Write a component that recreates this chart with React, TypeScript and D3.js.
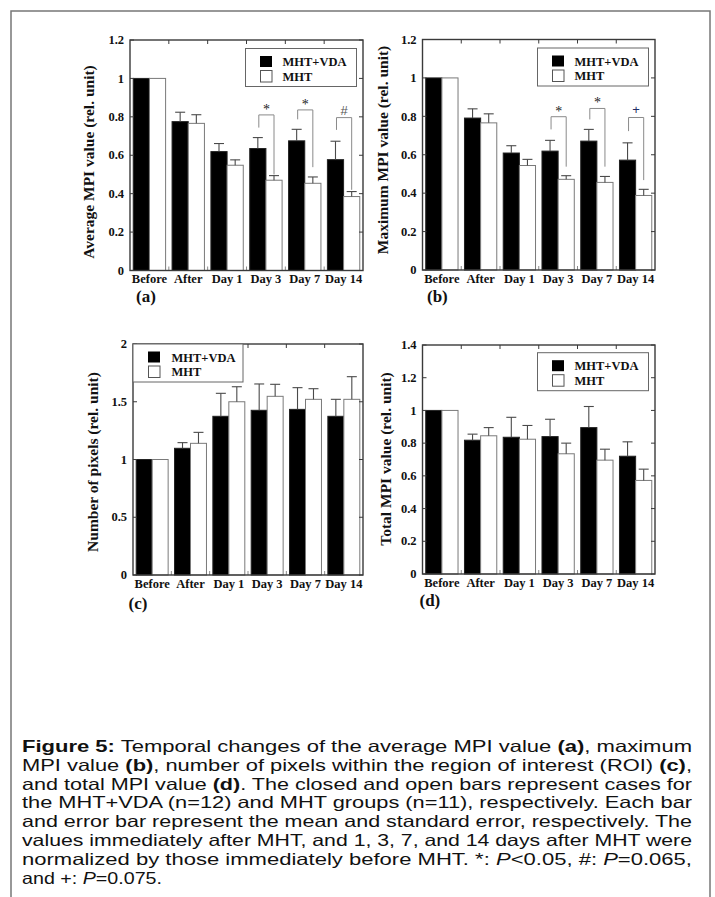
import React from "react";
import * as d3 from "d3";

// ---------- DATA ----------
const categories = ["Before", "After", "Day 1", "Day 3", "Day 7", "Day 14"];
const seriesNames = ["MHT+VDA", "MHT"];

// (a) Average MPI value
const avgVda = [1, 0.775, 0.619, 0.635, 0.675, 0.577];
const avgVdaErr = [0, 0.049, 0.042, 0.057, 0.06, 0.096];
const avgMht = [1, 0.766, 0.548, 0.47, 0.454, 0.385];
const avgMhtErr = [0, 0.045, 0.028, 0.024, 0.033, 0.026];
const avgSigIdx = [3, 4, 5];
const avgSigSym = ["*", "*", "#"];
const avgSigTop = [0.81, 0.836, 0.796];
const avgSigLeft = [0.744, 0.787, 0.732];
const avgSigRight = [0.5, 0.538, 0.42];

// (b) Maximum MPI value
const maxVda = [1, 0.791, 0.609, 0.619, 0.671, 0.572];
const maxVdaErr = [0, 0.048, 0.038, 0.056, 0.061, 0.09];
const maxMht = [1, 0.766, 0.544, 0.472, 0.456, 0.388];
const maxMhtErr = [0, 0.047, 0.032, 0.019, 0.031, 0.032];
const maxSigIdx = [3, 4, 5];
const maxSigSym = ["*", "*", "+"];
const maxSigTop = [0.798, 0.841, 0.794];
const maxSigLeft = [0.732, 0.784, 0.723];
const maxSigRight = [0.538, 0.538, 0.468];

// (c) Number of pixels
const pixVda = [1, 1.097, 1.374, 1.426, 1.434, 1.374];
const pixVdaErr = [0, 0.049, 0.199, 0.228, 0.188, 0.147];
const pixMht = [1, 1.14, 1.5, 1.547, 1.521, 1.521];
const pixMhtErr = [0, 0.095, 0.13, 0.104, 0.092, 0.196];

// (d) Total MPI value
const totVda = [1, 0.818, 0.836, 0.84, 0.895, 0.72];
const totVdaErr = [0, 0.037, 0.122, 0.106, 0.129, 0.088];
const totMht = [1, 0.845, 0.824, 0.735, 0.696, 0.572];
const totMhtErr = [0, 0.05, 0.084, 0.065, 0.067, 0.069];

// Caption (segments: [text, style]) style: n normal, b bold, i italic
const captionLines: [string, string][][] = [
  [["Figure 5:", "b"], [" Temporal changes of the average MPI value ", "n"], ["(a)", "b"], [", maximum", "n"]],
  [["MPI value ", "n"], ["(b)", "b"], [", number of pixels within the region of interest (ROI) ", "n"], ["(c)", "b"], [",", "n"]],
  [["and total MPI value ", "n"], ["(d)", "b"], [". The closed and open bars represent cases for", "n"]],
  [["the MHT+VDA (n=12) and MHT groups (n=11), respectively. Each bar", "n"]],
  [["and error bar represent the mean and standard error, respectively. The", "n"]],
  [["values immediately after MHT, and 1, 3, 7, and 14 days after MHT were", "n"]],
  [["normalized by those immediately before MHT. *: ", "n"], ["P", "i"], ["<0.05, #: ", "n"], ["P", "i"], ["=0.065,", "n"]],
  [["and +: ", "n"], ["P", "i"], ["=0.075.", "n"]],
];

// ---------- LAYOUT ----------
const SERIF = "'Liberation Serif', 'Times New Roman', serif";
const SANS = "'Liberation Sans Narrow', 'Arial Narrow', 'Liberation Sans', Arial, sans-serif";

type Sig = { idx: number[]; sym: string[]; top: number[]; left: number[]; right: number[]; colors: string[] };
type Panel = {
  letter: string;
  yLabel: string;
  x0: number; x1: number; yTop: number; yBot: number;
  yMax: number; nTicks: number;
  vda: number[]; vdaErr: number[]; mht: number[]; mhtErr: number[];
  legend: "left" | "right";
  letterX: number; letterY: number;
  yLabelX: number; yLabelY: number;
  sig?: Sig;
};

const panels: Panel[] = [
  {
    letter: "(a)", yLabel: "Average MPI value (rel. unit)",
    x0: 130, x1: 363, yTop: 40, yBot: 270.5, yMax: 1.2, nTicks: 6,
    vda: avgVda, vdaErr: avgVdaErr, mht: avgMht, mhtErr: avgMhtErr,
    legend: "right", letterX: 136, letterY: 302, yLabelX: 88, yLabelY: 162,
    sig: { idx: avgSigIdx, sym: avgSigSym, top: avgSigTop, left: avgSigLeft, right: avgSigRight, colors: ["#222", "#222", "#555"] },
  },
  {
    letter: "(b)", yLabel: "Maximum MPI value (rel. unit)",
    x0: 422.5, x1: 655, yTop: 39.5, yBot: 270, yMax: 1.2, nTicks: 6,
    vda: maxVda, vdaErr: maxVdaErr, mht: maxMht, mhtErr: maxMhtErr,
    legend: "right", letterX: 427, letterY: 302, yLabelX: 382, yLabelY: 150,
    sig: { idx: maxSigIdx, sym: maxSigSym, top: maxSigTop, left: maxSigLeft, right: maxSigRight, colors: ["#222", "#222", "#1f2d66"] },
  },
  {
    letter: "(c)", yLabel: "Number of pixels (rel. unit)",
    x0: 133, x1: 363, yTop: 344, yBot: 575, yMax: 2, nTicks: 4,
    vda: pixVda, vdaErr: pixVdaErr, mht: pixMht, mhtErr: pixMhtErr,
    legend: "left", letterX: 128.5, letterY: 609, yLabelX: 92, yLabelY: 462,
  },
  {
    letter: "(d)", yLabel: "Total MPI value (rel. unit)",
    x0: 422.5, x1: 655, yTop: 345, yBot: 574, yMax: 1.4, nTicks: 7,
    vda: totVda, vdaErr: totVdaErr, mht: totMht, mhtErr: totMhtErr,
    legend: "right", letterX: 419.5, letterY: 606, yLabelX: 385, yLabelY: 459,
  },
];

const AXIS = "#3a3a3a";
const GRAY = "#8a8a8a";

function ChartPanel({ p }: { p: Panel }) {
  const x = d3.scaleBand<string>().domain(categories).range([p.x0, p.x1]).padding(0);
  const inner = d3.scaleBand<string>().domain(seriesNames).range([0, x.bandwidth()]).paddingInner(0).paddingOuter(0.2);
  const y = d3.scaleLinear().domain([0, p.yMax]).range([p.yBot, p.yTop]);
  const ticks = y.ticks(p.nTicks);
  const fmt = d3.format("~g");
  const bw = inner.bandwidth();
  const capW = 10;
  const series = [
    { name: seriesNames[0], vals: p.vda, errs: p.vdaErr, fill: "#000", stroke: "#222" },
    { name: seriesNames[1], vals: p.mht, errs: p.mhtErr, fill: "#fff", stroke: "#7a7a7a" },
  ];
  const boundaries = categories.slice(1).map((c) => x(c) as number);

  const lgW = p.legend === "right" ? 111 : 110;
  const lgH = 38;
  const lgX = p.legend === "right" ? p.x1 - 6.5 - lgW : p.x0;
  const lgY = p.legend === "right" ? p.yTop + (p.yTop > 300 ? 7.7 : 8.5) : p.yTop;
  const sqX = p.legend === "right" ? lgX + 14.5 : lgX + 15;
  const txX = p.legend === "right" ? lgX + 37 : lgX + 38.5;

  return (
    <g>
      {series.map((s) =>
        categories.map((c, i) => {
          const bx = (x(c) as number) + (inner(s.name) as number);
          const top = y(s.vals[i]);
          return (
            <rect key={s.name + c} x={bx} y={top} width={bw} height={p.yBot - top}
              fill={s.fill} stroke={s.stroke} strokeWidth={1} />
          );
        })
      )}
      {series.map((s) =>
        categories.map((c, i) => {
          if (!s.errs[i]) return null;
          const cx = (x(c) as number) + (inner(s.name) as number) + bw / 2;
          const t = y(s.vals[i]);
          const e = y(s.vals[i] + s.errs[i]);
          return (
            <g key={"e" + s.name + c} stroke="#4a4a4a" strokeWidth={1.1}>
              <line x1={cx} x2={cx} y1={t} y2={e} />
              <line x1={cx - capW / 2} x2={cx + capW / 2} y1={e} y2={e} />
            </g>
          );
        })
      )}
      {p.sig &&
        p.sig.idx.map((ci, k) => {
          const c = categories[ci];
          const lx = (x(c) as number) + (inner(seriesNames[0]) as number) + bw / 2 + 1;
          const rx = (x(c) as number) + (inner(seriesNames[1]) as number) + bw / 2;
          const sig = p.sig as Sig;
          const yt = y(sig.top[k]);
          const path = `M${lx},${y(sig.left[k])}V${yt}H${rx}V${y(sig.right[k])}`;
          const sym = sig.sym[k];
          return (
            <g key={"s" + k}>
              <path d={path} fill="none" stroke={GRAY} strokeWidth={1} />
              <text x={(lx + rx) / 2} y={sym === "*" ? yt - 1 : yt - 3} textAnchor="middle"
                fontFamily={sym === "*" ? SERIF : SANS} fontSize={sym === "*" ? 14 : 13}
                fill={sig.colors[k]}>{sym}</text>
            </g>
          );
        })}
      {boundaries.map((bx, i) => (
        <g key={"tb" + i} stroke={GRAY} strokeWidth={1}>
          <line x1={bx} x2={bx} y1={p.yBot} y2={p.yBot - 4} />
          <line x1={bx} x2={bx} y1={p.yTop} y2={p.yTop + 4} stroke={AXIS} />
        </g>
      ))}
      {ticks.map((t) => (
        <g key={"ty" + t} stroke={AXIS} strokeWidth={1}>
          <line x1={p.x0} x2={p.x0 + 4} y1={y(t)} y2={y(t)} />
          <line x1={p.x1} x2={p.x1 - 4} y1={y(t)} y2={y(t)} />
        </g>
      ))}
      <rect x={p.x0} y={p.yTop} width={p.x1 - p.x0} height={p.yBot - p.yTop} fill="none" stroke={AXIS} strokeWidth={1.4} />
      {ticks.map((t) => (
        <text key={"yl" + t} x={p.x0 - 6} y={y(t) + 4.2} textAnchor="end" fontFamily={SERIF}
          fontWeight="bold" fontSize={12.5} fill="#111">{fmt(t)}</text>
      ))}
      {categories.map((c) => (
        <text key={"xl" + c} x={(x(c) as number) + x.bandwidth() / 2} y={p.yBot + 12.5}
          textAnchor="middle" fontFamily={SERIF} fontWeight="bold" fontSize={12.5} fill="#111">{c}</text>
      ))}
      <text transform={`translate(${p.yLabelX},${p.yLabelY}) rotate(-90)`} textAnchor="middle"
        dominantBaseline="central" fontFamily={SERIF} fontWeight="bold" fontSize={15.5} fill="#111">{p.yLabel}</text>
      <text x={p.letterX} y={p.letterY} fontFamily={SERIF} fontWeight="bold" fontSize={17} fill="#111">{p.letter}</text>
      <rect x={lgX} y={lgY} width={lgW} height={lgH} fill="#fff" stroke="#666" strokeWidth={1} />
      <rect x={sqX} y={lgY + 7.5} width={12} height={11} fill="#000" />
      <rect x={sqX + 0.5} y={lgY + 22} width={11.5} height={11.5} fill="#fff" stroke="#555" strokeWidth={1} />
      <text x={txX} y={lgY + 17.5} fontFamily={SERIF} fontWeight="bold" fontSize={12.5} fill="#111">{seriesNames[0]}</text>
      <text x={txX} y={lgY + 32} fontFamily={SERIF} fontWeight="bold" fontSize={12.5} fill="#111">{seriesNames[1]}</text>
    </g>
  );
}

export default function App() {
  const capX = 22;
  const capW = 670;
  const lastW = 140;
  const capY0 = 752;
  const capDy = 18.8;
  return (
    <svg width={715} height={897} viewBox="0 0 715 897"
      style={{ position: "absolute", left: 0, top: 0, background: "#fff" }}>
      <rect x={0} y={0} width={715} height={897} fill="#fff" />
      <rect x={11} y={11} width={699} height={920} fill="none" stroke="#777" strokeWidth={1.5} />
      {panels.map((p) => (
        <ChartPanel key={p.letter} p={p} />
      ))}
      {captionLines.map((segs, li) => {
        const last = li === captionLines.length - 1;
        return (
          <text key={"cap" + li} x={capX} y={capY0 + li * capDy} fontFamily={SANS} fontSize={16.5}
            fill="#111" textLength={last ? lastW : capW} lengthAdjust="spacingAndGlyphs">
            {segs.map(([t, s], si) => (
              <tspan key={si} fontWeight={s === "b" ? "bold" : "normal"} fontStyle={s === "i" ? "italic" : "normal"}>{t}</tspan>
            ))}
          </text>
        );
      })}
    </svg>
  );
}
